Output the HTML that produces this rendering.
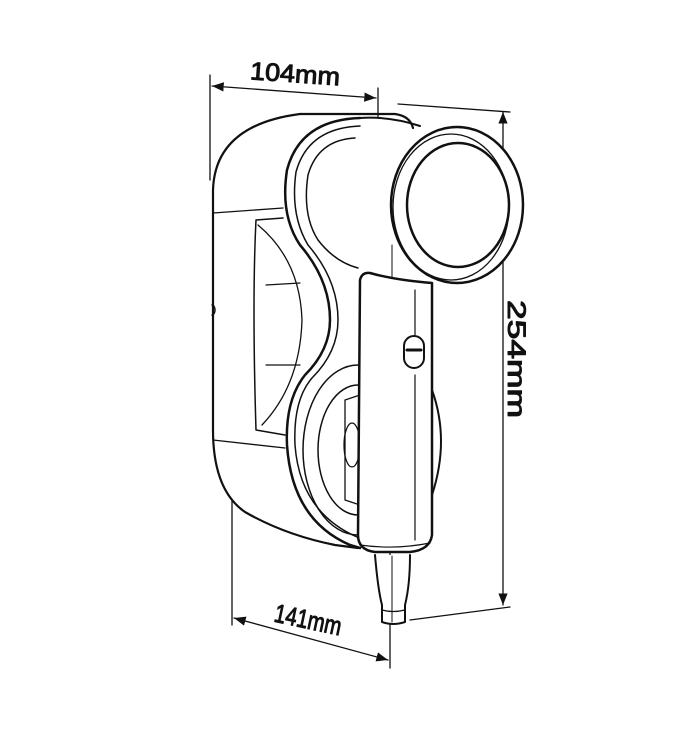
<!DOCTYPE html>
<html><head><style>body{margin:0;background:#fff}svg{display:block}text{font-family:"Liberation Sans",sans-serif;font-size:25px;fill:#111}</style></head>
<body>
<svg width="700" height="750" viewBox="0 0 700 750" fill="none" stroke="#111" stroke-linecap="round" stroke-linejoin="round">
<defs><marker id="a" viewBox="0 0 10 10" refX="10" refY="5" markerWidth="9" markerHeight="9" orient="auto-start-reverse"><path d="M0,1 L10,5 L0,9z" fill="#111" stroke="none"/></marker></defs>
<g stroke-width="1.3">
<line x1="210" y1="75" x2="210" y2="180"/>
<line x1="378" y1="88" x2="378" y2="118"/>
<line x1="212" y1="86" x2="376" y2="98" marker-start="url(#a)" marker-end="url(#a)"/>
<line x1="398" y1="104" x2="510" y2="112"/>
<line x1="410" y1="620" x2="510" y2="607"/>
<line x1="503" y1="112" x2="503" y2="605" marker-start="url(#a)" marker-end="url(#a)"/>
<line x1="232" y1="500" x2="232" y2="625"/>
<line x1="390" y1="545" x2="390" y2="668"/>
<line x1="234" y1="618" x2="388" y2="660" marker-start="url(#a)" marker-end="url(#a)"/>
<line x1="392" y1="245" x2="392" y2="545" stroke-width="1"/>
</g>
<text x="250" y="82" textLength="90" lengthAdjust="spacingAndGlyphs" transform="rotate(4 290 75)">104mm</text>
<text x="274" y="628" textLength="68" lengthAdjust="spacingAndGlyphs" style="font-size:26px" transform="rotate(12 305 620)">141mm</text>
<text x="0" y="0" textLength="118" lengthAdjust="spacingAndGlyphs" transform="translate(508 300) rotate(90)">254mm</text>
<g stroke-width="2.2">
<path d="M300,114 L395,114 Q410,116 413,128"/>
<path d="M300,114 Q215,125 213,190 L213,430 Q213,490 245,512 Q285,535 335,545 L358,548"/>
<path d="M213,213 L283,208" stroke-width="1.3"/>
<path d="M213,440 L285,448" stroke-width="1.3"/>
<path d="M212,305 a3,5 0 0 1 0,10" stroke-width="1.5"/>
<path d="M283,218 L256,220 Q252,300 256,430 L285,435" stroke-width="1.5"/>
<path d="M258,225 Q300,260 302,320 Q300,385 262,425" stroke-width="1.3"/>
<path d="M266,285 L300,283 M266,365 L300,365" stroke-width="1.2"/>
<path d="M360,118 Q300,120 287,170 Q280,215 300,245 Q330,280 330,320 Q330,350 305,375 Q285,400 287,445 Q292,520 350,545 L360,548" stroke-width="2.5"/>
<path d="M360,126 Q308,128 296,172 Q290,215 308,245 Q338,280 338,320 Q338,352 312,378 Q293,400 295,445 Q300,512 357,537" stroke-width="1.5"/>
<path d="M355,138 Q318,140 308,175 Q302,215 318,240 Q335,262 358,268" stroke-width="1.5"/>
<ellipse cx="358" cy="450" rx="55" ry="85" stroke-width="1.5"/>
<ellipse cx="358" cy="450" rx="40" ry="65" stroke-width="1.5"/>
<path d="M345,400 L360,395 L360,505 L345,500 Z" stroke-width="1.3"/>
<ellipse cx="352" cy="445" rx="8" ry="22" stroke-width="1.3"/>
<path d="M432,390 Q450,440 432,495" stroke-width="2"/>
<path d="M360,118 Q390,116 420,126" stroke-width="2"/>
<ellipse cx="457" cy="205" rx="66" ry="78" stroke-width="2.5" fill="#fff"/>
<ellipse cx="451" cy="207" rx="58" ry="73" stroke-width="1.3"/>
<ellipse cx="458" cy="205" rx="51" ry="62" stroke-width="2.5"/>
<path d="M360,280 Q362,272 370,273 Q395,280 432,283 L432,535 Q430,550 410,552 L375,552 Q358,550 358,535 Z" stroke-width="2.5" fill="#fff"/>
<path d="M415,290 L415,335 M415,375 L415,540" stroke-width="1.2"/>
<path d="M360,545 Q395,550 430,543" stroke-width="1.2"/>
<rect x="404" y="336" width="20" height="32" rx="10" stroke-width="2" fill="#fff"/>
<line x1="407" y1="350" x2="421" y2="350" stroke-width="3"/>
<path d="M375,555 Q378,590 382,605 L382,622 Q393,626 405,622 L405,605 Q410,585 410,555" stroke-width="2" fill="#fff"/>
<path d="M382,610 Q393,613 405,610" stroke-width="1.2"/>
<line x1="392" y1="556" x2="392" y2="622" stroke-width="1"/>
</g>
</svg>
</body></html>
